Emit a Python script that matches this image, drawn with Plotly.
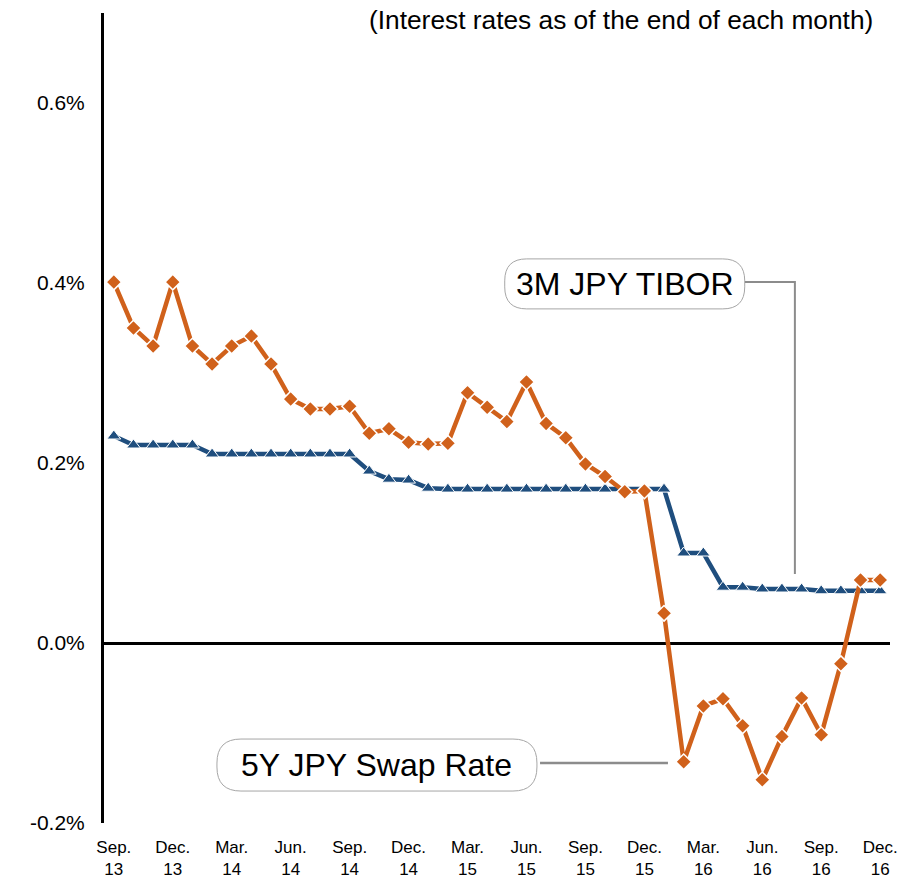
import plotly.graph_objects as go

# monthly index 0 = Sep 2013 ... 39 = Dec 2016
x_idx = list(range(40))

swap_5y = [0.401, 0.350, 0.330, 0.401, 0.330, 0.310, 0.330, 0.341, 0.310, 0.271,
           0.260, 0.260, 0.263, 0.233, 0.238, 0.223, 0.221, 0.222, 0.278, 0.262,
           0.246, 0.290, 0.244, 0.228, 0.199, 0.185, 0.168, 0.169, 0.033, -0.132,
           -0.070, -0.062, -0.092, -0.152, -0.104, -0.061, -0.102, -0.023, 0.070, 0.070]

tibor_3m = [0.230, 0.220, 0.220, 0.220, 0.220, 0.210, 0.210, 0.210, 0.210, 0.210,
            0.210, 0.210, 0.210, 0.191, 0.182, 0.181, 0.172, 0.171, 0.171, 0.171,
            0.171, 0.171, 0.171, 0.171, 0.171, 0.171, 0.171, 0.171, 0.171, 0.100,
            0.100, 0.062, 0.062, 0.060, 0.060, 0.060, 0.058, 0.058, 0.058, 0.058]

tick_idx = list(range(0, 40, 3))
tick_text = ["Sep.<br>13", "Dec.<br>13", "Mar.<br>14", "Jun.<br>14", "Sep.<br>14",
             "Dec.<br>14", "Mar.<br>15", "Jun.<br>15", "Sep.<br>15", "Dec.<br>15",
             "Mar.<br>16", "Jun.<br>16", "Sep.<br>16", "Dec.<br>16"]
y_ticks = [-0.2, 0.0, 0.2, 0.4, 0.6]

ORANGE = "#D0611B"
BLUE = "#1F4E7E"
GREY = "#8C8C8C"
FONT = "Liberation Sans, Arial, sans-serif"

fig = go.Figure()
fig.add_trace(go.Scatter(
    x=x_idx, y=tibor_3m, mode="lines+markers", name="3M JPY TIBOR",
    line=dict(color=BLUE, width=4.5),
    marker=dict(symbol="triangle-up", size=12, color=BLUE, line=dict(color="white", width=1)),
))
fig.add_trace(go.Scatter(
    x=x_idx, y=swap_5y, mode="lines+markers", name="5Y JPY Swap Rate",
    line=dict(color=ORANGE, width=4.5),
    marker=dict(symbol="diamond", size=12, color=ORANGE, line=dict(color="white", width=1.5)),
))


def rounded_rect(w, h, r):
    hw, hh = w / 2, h / 2
    return (f"M {-hw + r},{-hh} L {hw - r},{-hh} Q {hw},{-hh} {hw},{-hh + r} "
            f"L {hw},{hh - r} Q {hw},{hh} {hw - r},{hh} L {-hw + r},{hh} "
            f"Q {-hw},{hh} {-hw},{hh - r} L {-hw},{-hh + r} Q {-hw},{-hh} {-hw + r},{-hh} Z")


shapes = [
    # label boxes
    dict(type="path", xref="x", yref="y", xsizemode="pixel", ysizemode="pixel",
         xanchor=26.0, yanchor=0.399, path=rounded_rect(240, 50, 22),
         line=dict(color="#A6A6A6", width=1), fillcolor="white"),
    dict(type="path", xref="x", yref="y", xsizemode="pixel", ysizemode="pixel",
         xanchor=13.39, yanchor=-0.1356, path=rounded_rect(320, 52, 24),
         line=dict(color="#A6A6A6", width=1), fillcolor="white"),
    # connectors
    dict(type="path", xref="x", yref="y",
         path="M 32.12,0.401 L 34.66,0.401 L 34.66,0.0767",
         line=dict(color=GREY, width=2)),
    dict(type="line", xref="x", yref="y", x0=21.69, x1=28.2, y0=-0.1333, y1=-0.1333,
         line=dict(color=GREY, width=2.5)),
]

annotations = [
    dict(text="(Interest rates as of the end of each month)", xref="paper", yref="paper",
         x=0.981, y=0.991, xanchor="right", yanchor="middle", showarrow=False,
         font=dict(size=26.3, color="black", family=FONT)),
    dict(text="3M JPY TIBOR", xref="x", yref="y", x=26.0, y=0.399, showarrow=False,
         xanchor="center", yanchor="middle", font=dict(size=32, color="black", family=FONT)),
    dict(text="5Y JPY Swap Rate", xref="x", yref="y", x=13.39, y=-0.1356, showarrow=False,
         xanchor="center", yanchor="middle", font=dict(size=32, color="black", family=FONT)),
]

fig.update_layout(
    width=910, height=883,
    margin=dict(l=104, r=20, t=13, b=60),
    plot_bgcolor="white", paper_bgcolor="white",
    showlegend=False,
    font=dict(family=FONT, color="black"),
    shapes=shapes, annotations=annotations,
    xaxis=dict(range=[-0.5, 39.5], tickmode="array", tickvals=tick_idx, ticktext=tick_text,
               showgrid=False, zeroline=False, showline=False, ticks="",
               automargin=False, ticklabelstandoff=12,
               tickfont=dict(size=17, color="black", family=FONT)),
    yaxis=dict(range=[-0.2, 0.7], tickmode="array", tickvals=y_ticks,
               ticktext=[f"{v:.1f}%" for v in y_ticks],
               showgrid=False, zeroline=True, zerolinecolor="black", zerolinewidth=2.5,
               showline=True, linecolor="black", linewidth=3, ticks="",
               automargin=False, ticklabelstandoff=12,
               tickfont=dict(size=21, color="black", family=FONT)),
)

fig.write_html("out.html", config={"displayModeBar": False},
               post_script="document.body.style.margin='0';document.body.style.overflow='hidden';")
